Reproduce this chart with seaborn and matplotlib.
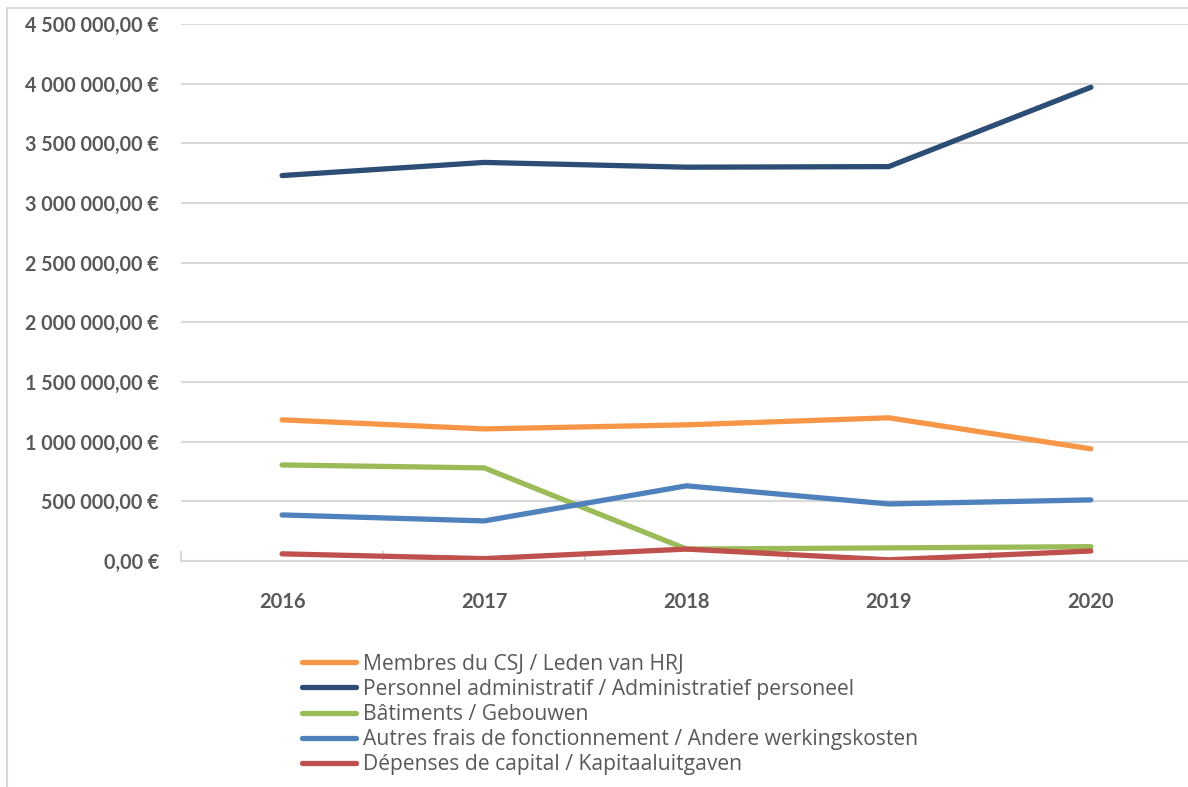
import matplotlib
matplotlib.use("Agg")
import matplotlib.pyplot as plt
import seaborn as sns
import pandas as pd
from matplotlib.patches import Rectangle
from matplotlib.lines import Line2D
from matplotlib.ticker import FuncFormatter, FixedLocator

years = ["2016", "2017", "2018", "2019", "2020"]
series_names = [
    "Membres du CSJ / Leden van HRJ",
    "Personnel administratif / Administratief personeel",
    "Bâtiments / Gebouwen",
    "Autres frais de fonctionnement / Andere werkingskosten",
    "Dépenses de capital / Kapitaaluitgaven",
]
membres = [1183000, 1107000, 1141000, 1200000, 940000]
personnel = [3230000, 3340000, 3300000, 3305000, 3970000]
batiments = [805000, 780000, 100000, 110000, 120000]
autres = [386000, 336000, 630000, 478000, 512000]
capital = [60000, 20000, 100000, 10000, 84000]
colors = ["#F79646", "#2C4D75", "#9BBB59", "#4F81BD", "#C0504D"]

values = [membres, personnel, batiments, autres, capital]
rows = []
for name, vals in zip(series_names, values):
    for i, (y, v) in enumerate(zip(years, vals)):
        rows.append({"idx": i, "year": y, "value": v, "series": name})
df = pd.DataFrame(rows)

sns.set_theme(style="white")
plt.rcParams['font.family'] = ['Lato', 'DejaVu Sans']

W, H = 1188, 787
fig = plt.figure(figsize=(W / 100, H / 100), dpi=100)
ax = fig.add_axes([181 / W, 1 - 561 / H, (1192 - 181) / W, (561 - 24) / H])

sns.lineplot(data=df, x="idx", y="value", hue="series", hue_order=series_names,
             palette=colors, linewidth=3.8, ax=ax, legend=False,
             solid_capstyle="round", solid_joinstyle="round")

ax.set_xlim(-0.5, 4.5)
ax.set_ylim(0, 4500000)
ax.set_yticks([i * 500000 for i in range(10)])


def fmt(v, pos):
    s = f"{v:,.2f}".replace(",", " ").replace(".", ",")
    return s + " €"


ax.yaxis.set_major_formatter(FuncFormatter(fmt))
ax.set_xticks(range(len(years)))
ax.set_xticklabels(years)
ax.xaxis.set_minor_locator(FixedLocator([-0.5, 0.5, 1.5, 2.5, 3.5, 4.5]))
ax.tick_params(axis="x", which="major", length=0, pad=22, labelsize=14.5,
               labelcolor="#595959")
ax.tick_params(axis="x", which="minor", length=7, width=1.5, color="#D9D9D9",
               direction="in", bottom=True)
ax.tick_params(axis="y", length=0, pad=16, labelsize=14.2, labelcolor="#595959")
for lab in ax.get_xticklabels() + ax.get_yticklabels():
    lab.set_fontweight("bold")

ax.grid(axis="y", color="#D9D9D9", linewidth=1.5)
ax.set_axisbelow(True)
for s in ["top", "right", "left"]:
    ax.spines[s].set_visible(False)
ax.spines["bottom"].set_color("#D9D9D9")
ax.spines["bottom"].set_linewidth(1.5)
ax.set_xlabel("")
ax.set_ylabel("")

handles = [Line2D([0], [0], color=c, linewidth=3.8, solid_capstyle="round")
           for c in colors]
leg = fig.legend(handles, series_names, loc="upper left",
                 bbox_to_anchor=(291 / W, 1 - 643 / H), frameon=False,
                 fontsize=15.2, handlelength=2.6, handletextpad=0.3,
                 labelspacing=0.2, borderpad=0)
for t in leg.get_texts():
    t.set_color("#595959")
    t.set_fontfamily(["Open Sans", "DejaVu Sans"])

fig.patches.append(Rectangle((7 / W, -0.1), 1.2, 1 - 8 / H + 0.1,
                             transform=fig.transFigure, fill=False,
                             edgecolor="#D9D9D9", linewidth=1.5, clip_on=False))

fig.savefig("out.png", dpi=100)
